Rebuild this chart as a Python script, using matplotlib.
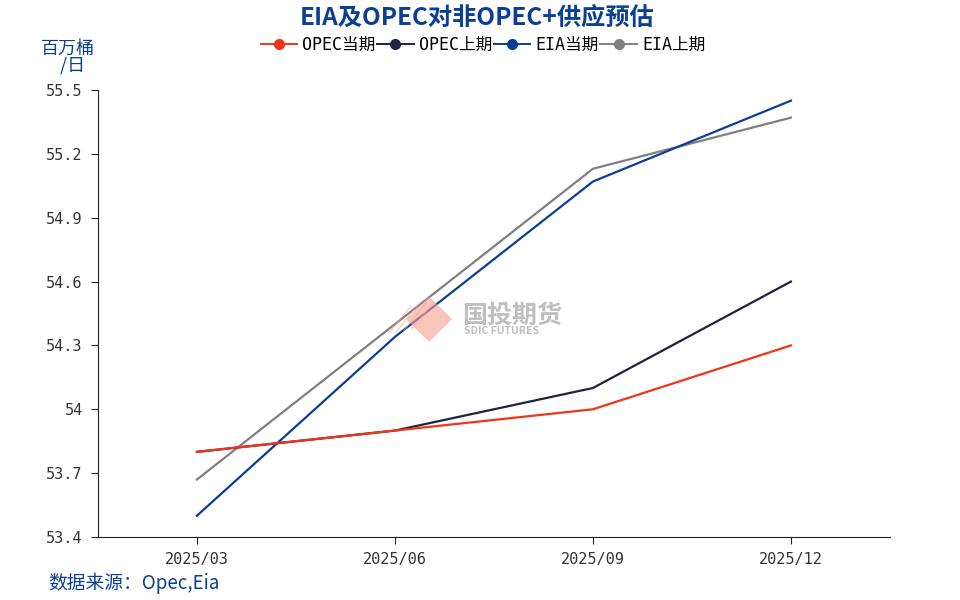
import matplotlib.pyplot as plt
from matplotlib.patches import Polygon
from matplotlib.ticker import FuncFormatter

plt.rcParams['font.family'] = ['Noto Sans CJK SC', 'DejaVu Sans']

months = ["2025/03", "2025/06", "2025/09", "2025/12"]
opec_cur = [53.8, 53.9, 54.0, 54.3]
opec_prev = [53.8, 53.9, 54.1, 54.6]
eia_cur = [53.5, 54.34, 55.07, 55.45]
eia_prev = [53.67, 54.4, 55.13, 55.37]
yticks = [53.4, 53.7, 54.0, 54.3, 54.6, 54.9, 55.2, 55.5]

fig = plt.figure(figsize=(9.6, 6), dpi=100)
ax = fig.add_axes([0.102, 0.105, 0.825, 0.745])

x = range(len(months))
series = [
    ("OPEC当期", opec_cur, "#f0341a"),
    ("OPEC上期", opec_prev, "#20223f"),
    ("EIA当期", eia_cur, "#0a3f94"),
    ("EIA上期", eia_prev, "#808080"),
]
# first series ends up on top
for i, (name, vals, c) in enumerate(series):
    ax.plot(x, vals, color=c, lw=1.6, zorder=10 - i)

ax.set_xlim(-0.5, 3.5)
ax.set_ylim(53.4, 55.5)
ax.set_xticks(list(x))
ax.set_xticklabels(months)
ax.set_yticks(yticks)
ax.yaxis.set_major_formatter(FuncFormatter(lambda v, p: "%g" % round(v, 1)))
for s in ["top", "right"]:
    ax.spines[s].set_visible(False)
ax.spines["left"].set_color("#222222")
ax.spines["bottom"].set_color("#222222")
ax.tick_params(axis="both", direction="out", length=5, colors="#222222", pad=6)
for lab in ax.get_xticklabels() + ax.get_yticklabels():
    lab.set_family(["DejaVu Sans Mono"])
    lab.set_fontsize(11)
    lab.set_color("#333333")

# legend with markers
handles = []
for name, vals, c in series:
    h, = ax.plot([], [], color=c, lw=1.4, marker="o", markersize=7, label=name)
    handles.append(h)
leg = fig.legend(handles=handles, loc="center", bbox_to_anchor=(0.503, 0.925), ncol=4,
                 frameon=False, handlelength=2.2, handletextpad=0.3,
                 columnspacing=0.1, prop={"family": ["DejaVu Sans Mono", "Noto Sans CJK SC"], "size": 12})

fig.text(0.497, 0.968, "EIA及OPEC对非OPEC+供应预估", ha="center", va="center",
         fontsize=17.5, fontweight="heavy", color="#0a3f94")
fig.text(0.071, 0.905, "百万桶\n  /日", ha="center", va="center", fontsize=13,
         color="#0a3f94", linespacing=0.95)
fig.text(0.05, 0.028, "数据来源：Opec,Eia", ha="left", va="center", fontsize=13.5,
         color="#0a3f94")

# watermark
wx, wy = 0.447, 0.468
diamond = Polygon([[wx - 0.024, wy], [wx, wy + 0.038], [wx + 0.024, wy], [wx, wy - 0.038]],
                  closed=True, transform=fig.transFigure, color="#f7a090", alpha=0.6, lw=0)
fig.patches.append(diamond)
for k in range(4):
    off = 0.008 * k
    fig.add_artist(plt.Line2D([0.405 + off, 0.428 + off], [0.445 + off * 0.3, 0.49 + off * 0.3],
                              transform=fig.transFigure, color="#f7a090", alpha=0.5, lw=1))
fig.text(0.481, 0.474, "国投期货", fontsize=18, color="#b0b0b0", alpha=0.8, va="center",
         fontweight="bold")
fig.text(0.483, 0.448, "SDIC FUTURES", fontsize=7.5, color="#b0b0b0", alpha=0.8, va="center",
         fontweight="bold")

fig.savefig("out.png", dpi=100)
